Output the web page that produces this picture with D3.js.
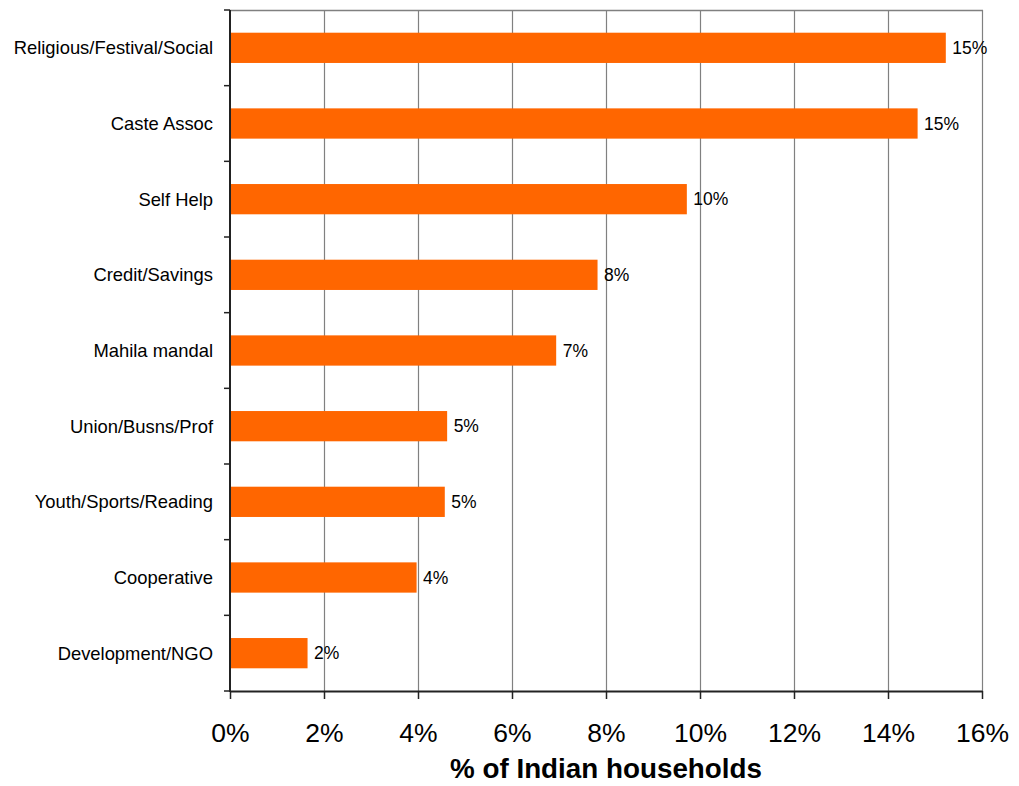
<!DOCTYPE html>
<html>
<head>
<meta charset="utf-8">
<script src="https://cdn.jsdelivr.net/npm/d3@7"></script>
<style>
  html, body { margin: 0; padding: 0; background: #fff; }
  svg { display: block; font-family: Arial, "Liberation Sans", sans-serif; }
</style>
</head>
<body>
<svg id="chart" width="1019" height="786"></svg>
<script>
// Membership in associations, share of households
const categories = [
  "Religious/Festival/Social",
  "Caste Assoc",
  "Self Help",
  "Credit/Savings",
  "Mahila mandal",
  "Union/Busns/Prof",
  "Youth/Sports/Reading",
  "Cooperative",
  "Development/NGO"
];
const shares = [0.1523, 0.1463, 0.0972, 0.0782, 0.0694, 0.0462, 0.0457, 0.0397, 0.0165];
const valueLabels = ["15%", "15%", "10%", "8%", "7%", "5%", "5%", "4%", "2%"];
const xTicks = [0, 0.02, 0.04, 0.06, 0.08, 0.10, 0.12, 0.14, 0.16];
const xTitle = "% of Indian households";

const svg = d3.select("#chart");
const plotLeft = 230, plotRight = 982, plotTop = 10, plotBottom = 691;

const x = d3.scaleLinear().domain([0, 0.16]).range([plotLeft, plotRight]);
const y = d3.scaleBand().domain(categories).range([plotTop, plotBottom])
  .paddingInner(0.6).paddingOuter(0.3);

// vertical gridlines
svg.append("g").selectAll("line").data(xTicks.slice(1)).join("line")
  .attr("x1", d => Math.round(x(d)) + 0.5).attr("x2", d => Math.round(x(d)) + 0.5)
  .attr("y1", plotTop).attr("y2", plotBottom)
  .attr("stroke", "#808080").attr("stroke-width", 1.2);

// top border of the plot area
svg.append("line")
  .attr("x1", plotLeft).attr("x2", plotRight + 1)
  .attr("y1", plotTop + 0.5).attr("y2", plotTop + 0.5)
  .attr("stroke", "#808080").attr("stroke-width", 1.5);

// bars
svg.append("g").selectAll("rect").data(categories).join("rect")
  .attr("x", x(0))
  .attr("y", d => y(d))
  .attr("width", (d, i) => x(shares[i]) - x(0))
  .attr("height", y.bandwidth())
  .attr("fill", "#FF6600");

// value labels
svg.append("g").selectAll("text").data(categories).join("text")
  .attr("x", (d, i) => x(shares[i]) + 6.5)
  .attr("y", d => y(d) + y.bandwidth() / 2)
  .attr("dy", "0.36em")
  .attr("font-size", 17.5)
  .attr("fill", "#000")
  .text((d, i) => valueLabels[i]);

// category labels
svg.append("g").selectAll("text").data(categories).join("text")
  .attr("x", 213)
  .attr("y", d => y(d) + y.bandwidth() / 2)
  .attr("dy", "0.36em")
  .attr("text-anchor", "end")
  .attr("font-size", 18.4)
  .attr("fill", "#000")
  .text(d => d);

// y axis line with ticks at category boundaries
const step = y.step();
const boundaries = d3.range(categories.length + 1).map(i => plotTop + i * step);
svg.append("line")
  .attr("x1", plotLeft).attr("x2", plotLeft)
  .attr("y1", plotTop).attr("y2", plotBottom + 1)
  .attr("stroke", "#222").attr("stroke-width", 2);
svg.append("g").selectAll("line").data(boundaries).join("line")
  .attr("x1", plotLeft - 6).attr("x2", plotLeft)
  .attr("y1", d => d).attr("y2", d => d)
  .attr("stroke", "#222").attr("stroke-width", 1.5);

// x axis
const xAxis = d3.axisBottom(x)
  .tickValues(xTicks)
  .tickFormat(d3.format(".0%"))
  .tickSize(8)
  .tickSizeOuter(0);
const gx = svg.append("g").attr("transform", `translate(0,${plotBottom})`).call(xAxis);
gx.select(".domain").attr("stroke", "#222").attr("stroke-width", 2);
gx.selectAll(".tick line").attr("stroke", "#222").attr("stroke-width", 1.5);
gx.selectAll(".tick text")
  .attr("y", 51).attr("dy", 0)
  .attr("font-size", 26.5)
  .attr("font-family", "Arial, 'Liberation Sans', sans-serif")
  .attr("fill", "#000");

// x axis title
svg.append("text")
  .attr("x", (plotLeft + plotRight) / 2)
  .attr("y", 778)
  .attr("text-anchor", "middle")
  .attr("font-size", 27.8)
  .attr("font-weight", "bold")
  .attr("fill", "#000")
  .text(xTitle);
</script>
</body>
</html>
